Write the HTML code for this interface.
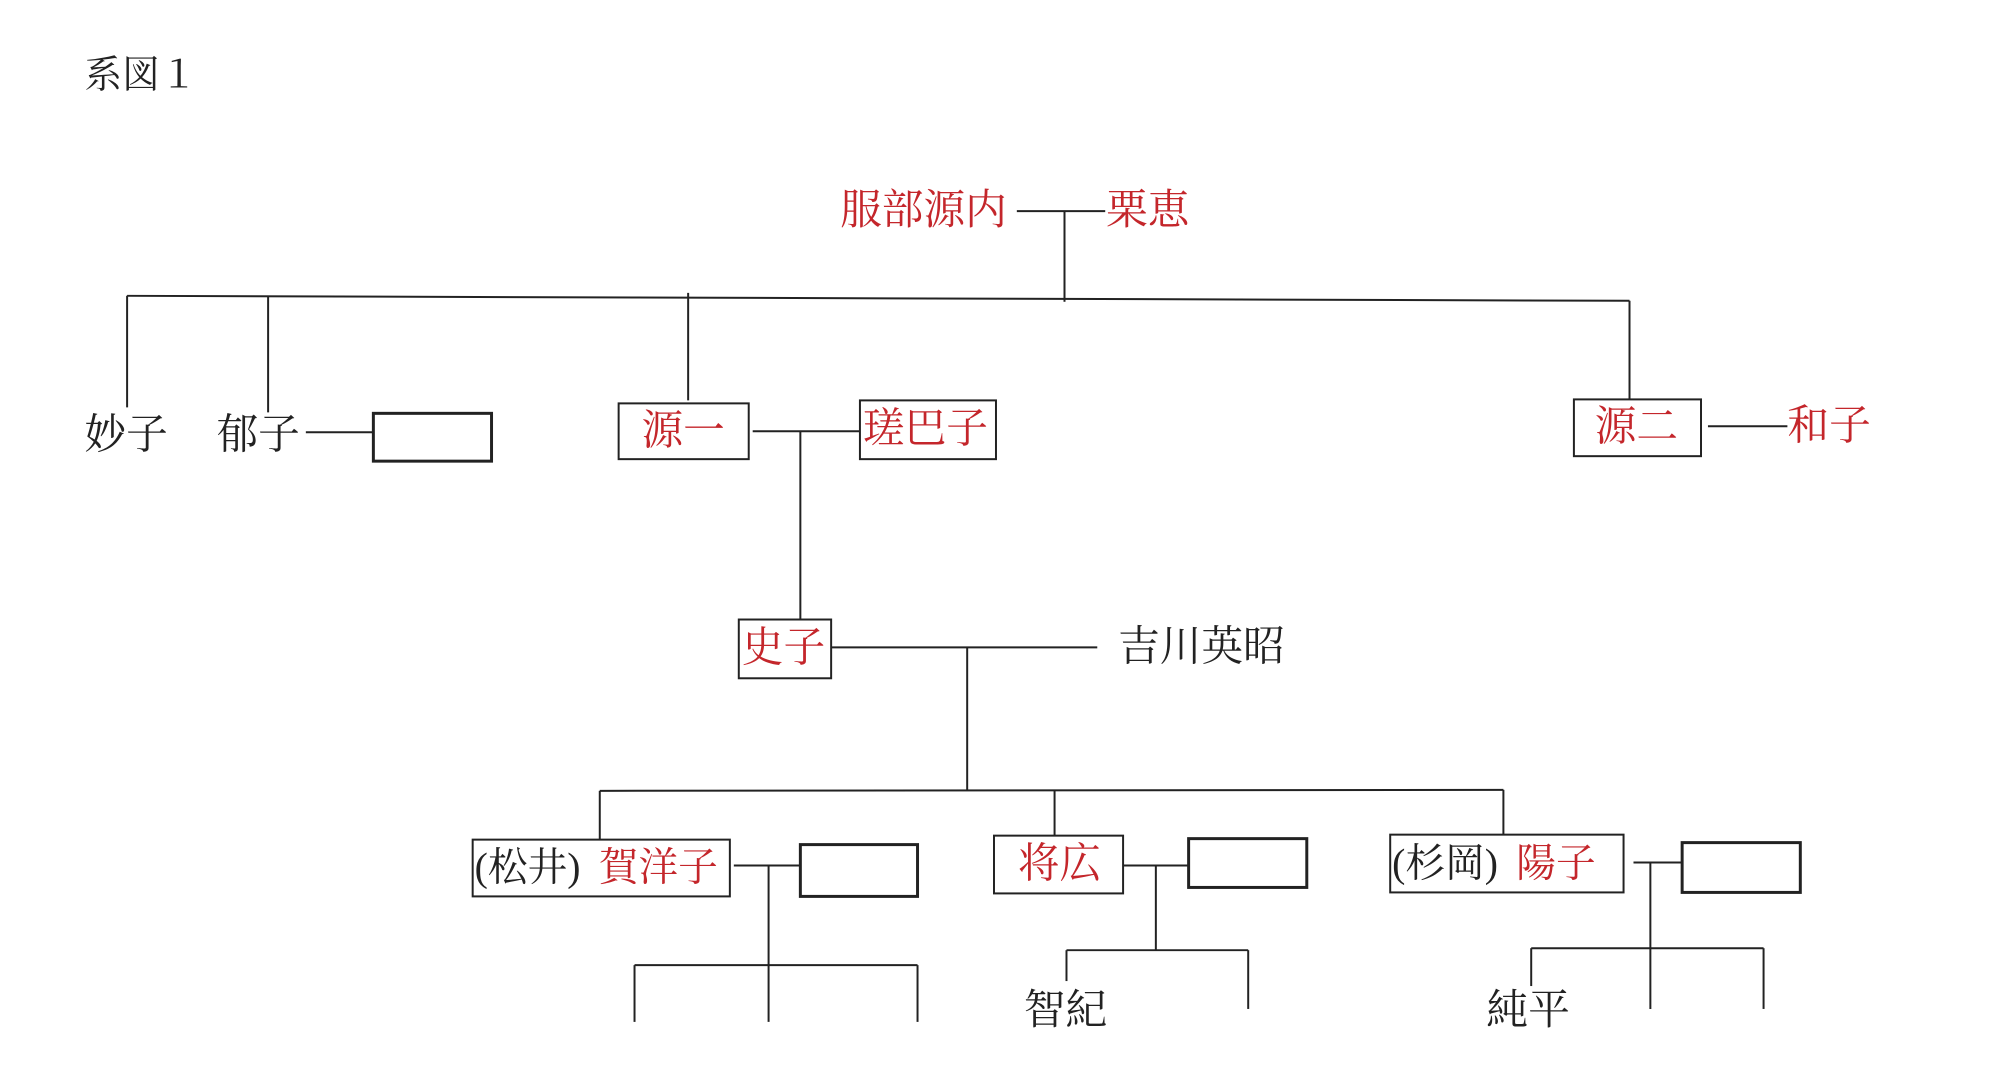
<!DOCTYPE html>
<html><head><meta charset="utf-8"><style>
html,body{margin:0;padding:0;background:#fff;}
svg{display:block;}
text{font-family:"Liberation Serif","Noto Serif CJK SC",serif;font-size:42px;dominant-baseline:central;}
.r{fill:#c4262b;}
.k{fill:#222;}
</style></head><body>
<svg width="2000" height="1086" viewBox="0 0 2000 1086" xmlns="http://www.w3.org/2000/svg">
<g transform="scale(0.993,0.996)">
<g stroke="#222" stroke-width="2" fill="none">
<line x1="1024" y1="212" x2="1113" y2="212"/>
<line x1="1072" y1="212" x2="1072" y2="303"/>
<line x1="128" y1="297" x2="1641" y2="302"/>
<line x1="128" y1="297" x2="128" y2="409"/>
<line x1="270" y1="297" x2="270" y2="414"/>
<line x1="693" y1="294" x2="693" y2="402"/>
<line x1="1641" y1="302" x2="1641" y2="401"/>
<line x1="308" y1="434" x2="375" y2="434"/>
<rect x="376" y="415" width="119" height="48" stroke-width="3"/>
<rect x="623" y="405" width="131" height="56"/>
<line x1="758" y1="433" x2="866" y2="433"/>
<line x1="806" y1="433" x2="806" y2="623"/>
<rect x="866" y="402" width="137" height="59"/>
<rect x="1585" y="401" width="128" height="57"/>
<line x1="1720" y1="428" x2="1800" y2="428"/>
<rect x="744" y="622" width="93" height="59"/>
<line x1="837" y1="650" x2="1105" y2="650"/>
<line x1="974" y1="650" x2="974" y2="794"/>
<line x1="604" y1="794" x2="1514" y2="793"/>
<line x1="604" y1="794" x2="604" y2="843"/>
<line x1="1062" y1="794" x2="1062" y2="839"/>
<line x1="1514" y1="793" x2="1514" y2="838"/>
<rect x="476" y="843" width="259" height="57"/>
<line x1="739" y1="869" x2="806" y2="869"/>
<rect x="806" y="848" width="118" height="52" stroke-width="3"/>
<line x1="774" y1="869" x2="774" y2="1026"/>
<line x1="639" y1="969" x2="924" y2="969"/>
<line x1="639" y1="969" x2="639" y2="1026"/>
<line x1="924" y1="969" x2="924" y2="1026"/>
<rect x="1001" y="839" width="130" height="58"/>
<line x1="1131" y1="869" x2="1197" y2="869"/>
<rect x="1197" y="842" width="119" height="49" stroke-width="3"/>
<line x1="1164" y1="869" x2="1164" y2="954"/>
<line x1="1074" y1="954" x2="1257" y2="954"/>
<line x1="1074" y1="954" x2="1074" y2="985"/>
<line x1="1257" y1="954" x2="1257" y2="1013"/>
<rect x="1400" y="838" width="235" height="58"/>
<line x1="1645" y1="866" x2="1694" y2="866"/>
<rect x="1694" y="846" width="119" height="50" stroke-width="3"/>
<line x1="1662" y1="866" x2="1662" y2="1013"/>
<line x1="1542" y1="952" x2="1776" y2="952"/>
<line x1="1542" y1="952" x2="1542" y2="990"/>
<line x1="1776" y1="952" x2="1776" y2="1013"/>
</g>
<text x="85" y="76" class="k" style="font-size:38px">系図１</text>
<text x="846" y="212" class="r">服部源内</text>
<text x="1114" y="212" class="r">栗恵</text>
<text x="85" y="437" class="k">妙子</text>
<text x="218" y="437" class="k">郁子</text>
<text x="646" y="433" class="r">源一</text>
<text x="869" y="431" class="r">瑳巴子</text>
<text x="1606" y="429" class="r">源二</text>
<text x="1800" y="428" class="r">和子</text>
<text x="747" y="651" class="r">史子</text>
<text x="1126" y="650" class="k">吉川英昭</text>
<text x="478" y="871" class="k" style="font-size:40px">(松井)</text><text x="603" y="871" class="r" style="font-size:40px">賀洋子</text>
<text x="1025" y="868" class="r">将広</text>
<text x="1402" y="867" class="k" style="font-size:40px">(杉岡)</text><text x="1527" y="867" class="r" style="font-size:40px">陽子</text>
<text x="1031" y="1015" class="k">智紀</text>
<text x="1497" y="1015" class="k">純平</text>
</g>
</svg>
</body></html>
